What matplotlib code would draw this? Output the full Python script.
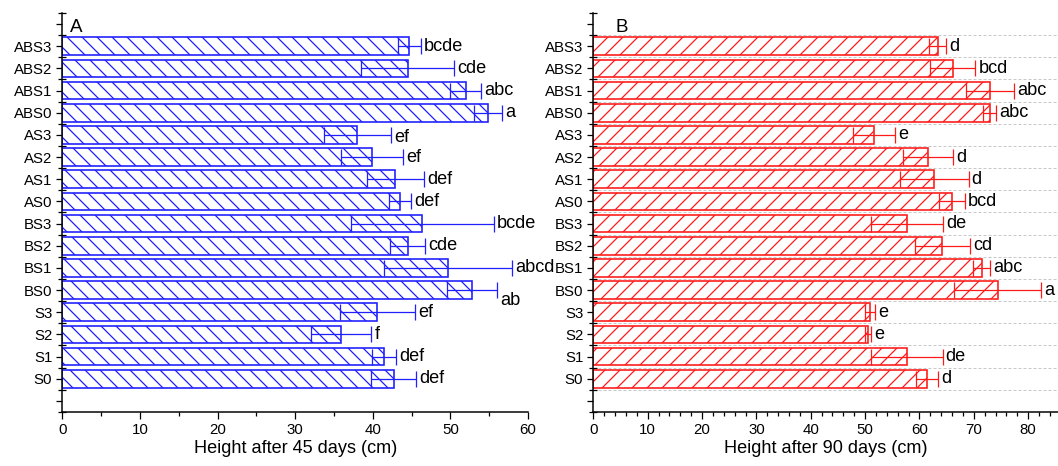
import numpy as np
import matplotlib
matplotlib.use('Agg')
import matplotlib.pyplot as plt

plt.rcParams['font.family'] = ['Liberation Sans', 'DejaVu Sans']

# categories from bottom to top
names = ['S0', 'S1', 'S2', 'S3', 'BS0', 'BS1', 'BS2', 'BS3',
         'AS0', 'AS1', 'AS2', 'AS3', 'ABS0', 'ABS1', 'ABS2', 'ABS3']

# height after 45 days (cm)
h45 = [42.7, 41.5, 35.9, 40.6, 52.8, 49.7, 44.5, 46.4,
       43.5, 42.9, 39.9, 38.0, 54.9, 52.0, 44.5, 44.7]
e45 = [2.9, 1.55, 3.9, 4.8, 3.2, 8.25, 2.25, 9.2,
       1.4, 3.7, 4.05, 4.35, 1.8, 2.0, 6.0, 1.5]
g45 = ['def', 'def', 'f', 'ef', 'ab', 'abcd', 'cde', 'bcde',
       'def', 'def', 'ef', 'ef', 'a', 'abc', 'cde', 'bcde']

# height after 90 days (cm)
h90 = [61.4, 57.7, 50.6, 50.9, 74.4, 71.5, 64.2, 57.7,
       66.0, 62.7, 61.6, 51.7, 72.9, 73.0, 66.1, 63.4]
e90 = [2.1, 6.55, 0.55, 1.0, 7.95, 1.55, 5.1, 6.7,
       2.35, 6.35, 4.6, 3.85, 1.25, 4.35, 4.2, 1.55]
g90 = ['d', 'de', 'e', 'e', 'a', 'abc', 'cd', 'de',
       'bcd', 'd', 'd', 'e', 'abc', 'abc', 'bcd', 'd']

pos = np.arange(len(names))

fig = plt.figure(figsize=(1058 / 90, 466 / 90), dpi=90)
axA = fig.add_axes([0.0589, 0.1159, 0.4402, 0.8562])
axB = fig.add_axes([0.5608, 0.1159, 0.4392, 0.8562])


def panel(ax, vals, errs, groups, color, hatch, xmax, xmajor, xminor,
          xlabel, tag, tagx, nudge):
    ax.barh(pos, vals, height=0.8, color='white', edgecolor=color,
            hatch=hatch, linewidth=1.3, zorder=2)
    ax.errorbar(vals, pos, xerr=errs, fmt='none', ecolor=color,
                elinewidth=1, capsize=6.5, capthick=1, zorder=3)
    for i, (v, e, g) in enumerate(zip(vals, errs, groups)):
        dy = nudge.get(i, 0)
        ax.annotate(g, (v + e, pos[i]), xytext=(2.5, dy),
                    textcoords='offset points', va='center', ha='left',
                    fontsize=14.5, annotation_clip=False)
    ax.set_xlim(0, xmax)
    ax.set_ylim(-1.5, 16.5)
    ax.set_xticks(np.arange(0, xmax + 0.1, xmajor))
    ax.set_xticks(np.arange(0, xmax + 0.1, xminor), minor=True)
    ax.set_yticks(np.arange(-1, 17), [''] + names + [''])
    ax.set_yticks(np.arange(-1.5, 17, 1), minor=True)
    ax.tick_params(axis='x', which='major', direction='out', length=5.5,
                   width=1, labelsize=12)
    ax.tick_params(axis='x', which='minor', direction='out', length=3, width=1)
    ax.tick_params(axis='y', which='major', direction='out', length=4.5,
                   width=1, labelsize=12)
    ax.tick_params(axis='y', which='minor', direction='inout', length=6,
                   width=1)
    for s in ['top', 'right']:
        ax.spines[s].set_visible(False)
    for s in ['left', 'bottom']:
        ax.spines[s].set_linewidth(1.2)
    ax.set_xlabel(xlabel, fontsize=14.5, labelpad=2)
    ax.text(tagx, 0.952, tag, transform=ax.transAxes, fontsize=15)


panel(axA, h45, e45, g45, '#1f1fff', '\\\\', 60, 10, 5,
      'Height after 45 days (cm)', 'A', 0.016, {4: -8, 11: -2})
panel(axB, h90, e90, g90, '#ff1a1a', '//', 85.5, 10, 2,
      'Height after 90 days (cm)', 'B', 0.047, {})

for y in np.arange(-0.5, 16, 1):
    axB.axhline(y, color='#c8c8c8', linestyle=(0, (3, 2)), linewidth=0.8,
                zorder=1)

fig.savefig('out.png', dpi=90)
